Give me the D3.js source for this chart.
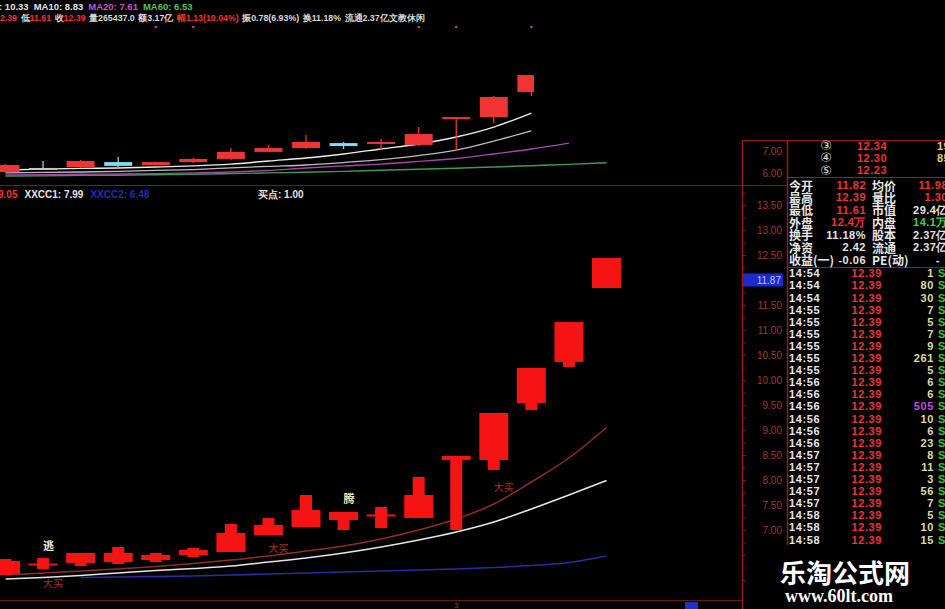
<!DOCTYPE html>
<html><head><meta charset="utf-8">
<script src="https://cdn.jsdelivr.net/npm/d3@7/dist/d3.min.js"></script>
<style>html,body{margin:0;padding:0;background:#000;overflow:hidden}</style>
</head><body><svg id="c" width="945" height="609"></svg>
<script>
// ---------------- DATA ----------------
const barIndex = [0,1,2,3,4,5,6,7,8,9,10,11,12,13,14,15,16];

// upper (main K-line) panel, 15 visible bars
const upperOpen  = [6.07,6.25,6.29,6.51,6.38,6.51,6.65,6.96,7.13,7.35,7.31,7.27,8.49,8.50,9.61];
const upperClose = [6.38,6.25,6.56,6.34,6.51,6.65,6.96,7.13,7.40,7.22,7.40,7.75,8.50,9.39,10.36];
const upperHigh  = [6.42,6.56,6.60,6.73,6.53,6.69,7.13,7.27,7.71,7.40,7.53,8.06,8.50,9.43,10.36];
const upperLow   = [6.03,6.16,6.25,6.29,6.36,6.47,6.60,6.96,7.09,7.09,7.04,7.22,7.00,8.24,9.43];
const upperMA5   = [6.16,6.20,6.23,6.25,6.29,6.34,6.42,6.56,6.69,6.87,7.09,7.31,7.62,8.06,8.68];
const upperMA10  = [6.03,6.05,6.07,6.10,6.14,6.18,6.25,6.32,6.38,6.49,6.62,6.80,7.04,7.44,7.89];
const upperMA20  = [5.94,5.95,5.97,5.98,6.00,6.03,6.07,6.14,6.25,6.34,6.42,6.54,6.67,6.87,7.09,7.35];
const upperMA60  = [5.89,5.90,5.92,5.93,5.95,5.97,6.00,6.03,6.06,6.10,6.15,6.19,6.24,6.29,6.35,6.41,6.48];
const upperTicks = [6.00,7.00];
const markerIndex = [4,5,11,12,14];

// lower (indicator) panel, 17 bars
const lowerOpen  = [6.12,6.31,6.34,6.36,6.40,6.50,6.56,6.90,7.06,7.20,7.29,7.24,8.40,8.40,9.54,10.36,11.84];
const lowerClose = [6.38,6.33,6.54,6.54,6.50,6.60,6.94,7.10,7.40,7.36,7.31,7.70,8.48,9.34,10.24,11.16,12.44];
const lowerHigh  = [6.42,6.44,6.54,6.66,6.54,6.64,7.12,7.24,7.70,7.36,7.46,8.06,8.48,9.34,10.24,11.16,12.44];
const lowerLow   = [6.10,6.22,6.28,6.32,6.36,6.46,6.56,6.90,7.06,7.00,7.04,7.24,7.00,8.20,9.40,10.26,11.84];
const lowerRed   = [6.10,6.14,6.18,6.22,6.27,6.33,6.40,6.48,6.58,6.68,6.82,7.00,7.22,7.52,7.96,8.44,9.05];
const lowerWhite = [6.02,6.05,6.09,6.14,6.19,6.23,6.28,6.36,6.44,6.54,6.66,6.80,6.96,7.16,7.42,7.70,7.99];
const lowerBlue  = [null,null,6.05,6.06,6.07,6.08,6.10,6.12,6.14,6.16,6.18,6.20,6.22,6.25,6.29,6.35,6.48];
const lowerTicks = [7.00,7.50,8.00,8.50,9.00,9.50,10.00,10.50,11.00,11.50,12.00,12.50,13.00,13.50];
const signalText  = ["逃","大买","大买","腾","大买"];
const signalIndex = [1,1,7,9,13];
const signalValue = [6.70,5.96,6.66,7.64,7.88];
const cursorText = "11.87";
const cursorLevel = 12.00;
const dateLabel = "3", dateIndex = 12;

// headers
const head1Labels = ["MA5","MA10","MA20","MA60"];
const head1Values = ["10.33","8.83","7.61","6.53"];
const head2Labels = ["高","低","收","量","额","幅","振","换","流通",""];
const head2Values = ["12.39","11.61","12.39","265437.0","3.17亿","1.13(10.04%)","0.78(6.93%)","11.18%","2.37亿","文教休闲"];
const lowHeadLabels = ["","XXCC1","XXCC2","买点"];
const lowHeadValues = ["9.05","7.99","6.48","1.00"];

// right quote panel
const bookLevel  = ["③","④","⑤"];
const bookPrice  = ["12.34","12.30","12.23"];
const bookVolume = ["19","85",""];
const statLabel1 = ["今开","最高","最低","外盘","换手","净资","收益(一)"];
const statValue1 = ["11.82","12.39","11.61","12.4万","11.18%","2.42","-0.06"];
const statLabel2 = ["均价","量比","市值","内盘","股本","流通","PE(动)"];
const statValue2 = ["11.98","1.30","29.4亿","14.1万","2.37亿","2.37亿","-"];
const tickTimes  = ["14:54","14:54","14:54","14:55","14:55","14:55","14:55","14:55","14:55","14:56","14:56","14:56","14:56","14:56","14:56","14:57","14:57","14:57","14:57","14:57","14:58","14:58","14:58"];
const tickPrices = [12.39,12.39,12.39,12.39,12.39,12.39,12.39,12.39,12.39,12.39,12.39,12.39,12.39,12.39,12.39,12.39,12.39,12.39,12.39,12.39,12.39,12.39,12.39];
const tickVolumes= [1,80,30,7,5,7,9,261,5,6,6,505,10,6,23,8,11,3,56,7,5,10,15];
const watermark1 = "乐淘公式网", watermark2 = "www.60lt.com";

// ---------------- STYLE ----------------
const NUM = '"Liberation Sans", Arial, sans-serif';
const CJK = '"Noto Sans CJK SC", "Noto Sans", sans-serif';
const GRID = '#9c1a1a';
const AXT = '#a03838';
const RED = '#f03434';
const WHITE = '#e4e4e4';

const svg = d3.select('#c');
svg.append('rect').attr('width',945).attr('height',609).attr('fill','#000');
const defs = svg.append('defs');
function clip(id,x,y,w,h){defs.append('clipPath').attr('id',id).append('rect').attr('x',x).attr('y',y).attr('width',w).attr('height',h);}
clip('cUpA',0,28,534,157);
clip('cUp',0,28,742,157);
clip('cLo',0,186,742,414);

const x = d3.scaleLinear().domain([0,16]).range([5.5,606.5]);
const yUp = d3.scaleLinear().domain([6,7]).range([173.6,151]);
const yLo = d3.scaleLinear().domain([7,13.5]).range([530,205]);

function T(g,xx,yy,s,o={}){
  const t = g.append('text').attr('x',xx).attr('y',yy).text(s)
    .attr('fill',o.fill||WHITE).attr('font-family',o.font||NUM)
    .attr('font-size',o.size||11).attr('font-weight',o.weight||'bold')
    .attr('text-anchor',o.anchor||'start').attr('dominant-baseline',o.base||'central');
  if(o.ls) t.attr('letter-spacing',o.ls);
  return t;
}

// ---------------- HEADERS ----------------
const h1 = svg.append('text').attr('x',-21).attr('y',6).attr('dominant-baseline','central')
  .attr('font-family',NUM).attr('font-size',9.5).attr('font-weight','bold');
const h1col = [WHITE,WHITE,'#c850d0','#56c060'];
head1Labels.forEach((l,i)=>{h1.append('tspan').attr('dx',i?5:0).attr('fill',h1col[i]).text(l+': '+head1Values[i]);});

const h2 = svg.append('text').attr('x',-14).attr('y',17.5).attr('dominant-baseline','central')
  .attr('font-family',NUM).attr('font-size',8.8).attr('font-weight','bold');
const redVal = new Set(['高','低','收','幅']);
head2Labels.forEach((l,i)=>{
  h2.append('tspan').attr('dx',i?3.5:0).attr('fill',l==='幅'?RED:'#d8d8d8').text(l);
  h2.append('tspan').attr('fill',redVal.has(l)?RED:'#d8d8d8').text(head2Values[i]);
});
svg.selectAll('circle.mk').data(markerIndex).join('circle').attr('cx',d=>x(d)).attr('cy',27).attr('r',1.3).attr('fill','#c0409a');

const h3 = svg.append('text').attr('x',-2).attr('y',194).attr('dominant-baseline','central')
  .attr('font-family',NUM).attr('font-size',10).attr('font-weight','bold');
const h3col = [RED,WHITE,'#2a2ab0',WHITE];
lowHeadLabels.forEach((l,i)=>{
  if(i===3) return;
  h3.append('tspan').attr('dx',i?7:0).attr('fill',h3col[i]).text(l?l+': '+lowHeadValues[i]:lowHeadValues[i]);
});
T(svg,258,194,lowHeadLabels[3]+': '+lowHeadValues[3],{size:10});

// ---------------- UPPER PANEL ----------------
const gUp = svg.append('g').attr('clip-path','url(#cUp)');
const gUpA = svg.append('g').attr('clip-path','url(#cUpA)');
const up = upperOpen.map((o,i)=>({i:barIndex[i],o,c:upperClose[i],h:upperHigh[i],l:upperLow[i]}));
const upColor = d => d.c>d.o ? RED : (d.c<d.o ? '#7fdcea' : '#c4c4c4');
const lineUp = d3.line().defined(d=>d!=null).x((d,i)=>x(barIndex[i])).y(d=>yUp(d)).curve(d3.curveMonotoneX);
gUp.append('path').attr('d',lineUp(upperMA60)).attr('fill','none').attr('stroke','#3f9a58').attr('stroke-width',1.4);
gUp.append('path').attr('d',lineUp(upperMA20)).attr('fill','none').attr('stroke','#a24aa8').attr('stroke-width',1.4);
gUpA.append('path').attr('d',lineUp(upperMA10)).attr('fill','none').attr('stroke','#bdbdbd').attr('stroke-width',1.3);
gUpA.append('path').attr('d',lineUp(upperMA5)).attr('fill','none').attr('stroke','#ececec').attr('stroke-width',1.4);
gUpA.selectAll('line.w').data(up).join('line').attr('x1',d=>x(d.i)).attr('x2',d=>x(d.i))
  .attr('y1',d=>yUp(d.h)).attr('y2',d=>yUp(d.l)).attr('stroke',upColor).attr('stroke-width',1.3);
gUpA.selectAll('rect.b').data(up).join('rect').attr('x',d=>x(d.i)-14).attr('width',28)
  .attr('y',d=>yUp(Math.max(d.o,d.c))).attr('height',d=>Math.max(2,Math.abs(yUp(d.o)-yUp(d.c)))).attr('fill',upColor);

// ---------------- LOWER PANEL ----------------
const gLo = svg.append('g').attr('clip-path','url(#cLo)');
const lineLo = d3.line().defined(d=>d!=null).x((d,i)=>x(barIndex[i])).y(d=>yLo(d)).curve(d3.curveMonotoneX);
gLo.append('path').attr('d',lineLo(lowerBlue)).attr('fill','none').attr('stroke','#2a2aa6').attr('stroke-width',1.6);
gLo.append('path').attr('d',lineLo(lowerRed)).attr('fill','none').attr('stroke','#8e2c2c').attr('stroke-width',1.5);
gLo.append('path').attr('d',lineLo(lowerWhite)).attr('fill','none').attr('stroke','#e6e6e6').attr('stroke-width',1.5);
const lo = lowerOpen.map((o,i)=>({i:barIndex[i],o,c:lowerClose[i],h:lowerHigh[i],l:lowerLow[i]}));
const LRED = '#f51414';
gLo.selectAll('rect.w').data(lo).join('rect').attr('x',d=>x(d.i)-6).attr('width',12)
  .attr('y',d=>yLo(d.h)).attr('height',d=>Math.max(1,yLo(d.l)-yLo(d.h))).attr('fill',LRED);
gLo.selectAll('rect.b').data(lo).join('rect').attr('x',d=>x(d.i)-14.5).attr('width',29)
  .attr('y',d=>yLo(Math.max(d.o,d.c))).attr('height',d=>Math.max(2,Math.abs(yLo(d.o)-yLo(d.c)))).attr('fill',LRED);
signalText.forEach((s,k)=>{
  const col = s==='大买' ? '#a83030' : (s==='腾' ? '#f0e8b0' : '#ece8d0');
  T(gLo,x(signalIndex[k]),yLo(signalValue[k]),s,{font:CJK,size:s==='大买'?10:11,fill:col,weight:s==='大买'?'normal':'bold'});
});

// ---------------- FRAME LINES ----------------
function L(x1,y1,x2,y2,c=GRID,w=1){svg.append('line').attr('x1',x1).attr('y1',y1).attr('x2',x2).attr('y2',y2).attr('stroke',c).attr('stroke-width',w);}
L(0,185.5,787,185.5,'#7a1a1a');
L(0,600.5,742,600.5,'#6a1616');
L(742.5,140,742.5,609,GRID,1.5);
L(787.5,140,787.5,545,GRID,1.5);
L(742,140.5,945,140.5,GRID);
L(787,177.5,945,177.5,GRID);
L(787,267.5,945,267.5,GRID);

// axes
const axU = svg.append('g').attr('transform','translate(782,0)')
  .call(d3.axisLeft(yUp).tickValues(upperTicks).tickSize(0).tickPadding(0).tickFormat(d3.format('.2f')));
const axL = svg.append('g').attr('transform','translate(782,0)')
  .call(d3.axisLeft(yLo).tickValues(lowerTicks).tickSize(0).tickPadding(0).tickFormat(d3.format('.2f')));
[axU,axL].forEach(a=>{a.select('.domain').remove();a.selectAll('text').attr('fill',AXT).attr('font-family',NUM).attr('font-size',10);});
svg.append('g').attr('transform','translate(742.5,0)')
  .call(d3.axisRight(yLo).tickValues(d3.range(6,13.8,0.25)).tickSize(3).tickFormat(''))
  .call(g=>{g.select('.domain').remove();g.selectAll('line').attr('stroke',GRID);});
// cursor readout
const cy = yLo(cursorLevel);
svg.append('rect').attr('x',743).attr('y',cy-6.5).attr('width',40).attr('height',13).attr('fill','#1e2ad0');
T(svg,781,cy,cursorText,{size:10,anchor:'end',fill:'#b8c8ff',weight:'normal'});
T(svg,x(dateIndex),605,dateLabel,{size:8,fill:AXT,anchor:'middle',weight:'normal'});
svg.append('rect').attr('x',x(18.25)-6).attr('y',602).attr('width',13).attr('height',7).attr('fill','#2030c0');

// ---------------- RIGHT QUOTE PANEL ----------------
const gR = svg.append('g');
bookLevel.forEach((s,k)=>{
  const yy = 145.5+12.3*k;
  T(gR,826,yy,s,{font:'"DejaVu Sans", sans-serif',size:13,anchor:'middle',fill:'#d8d8d8',weight:'normal'});
  T(gR,887,yy,bookPrice[k],{anchor:'end',fill:RED,ls:0.5});
  T(gR,937,yy,bookVolume[k],{fill:'#e0d060',ls:0.5});
});
const redStat1 = new Set(['今开','最高','最低','外盘']);
const redStat2 = new Set(['均价','量比']);
statLabel1.forEach((s,k)=>{
  const yy = 185+12.45*k;
  T(gR,789,yy,s,{font:CJK,size:12,fill:'#e8e8e8'});
  T(gR,866,yy,statValue1[k],{anchor:'end',fill:redStat1.has(s)?RED:WHITE,ls:0.5});
  T(gR,872,yy,statLabel2[k],{font:CJK,size:12,fill:'#e8e8e8'});
  const l2 = statLabel2[k];
  T(gR,l2==='PE(动)'?940:948,yy,statValue2[k],{anchor:'end',fill:redStat2.has(l2)?RED:(l2==='内盘'?'#3fd04a':WHITE),ls:0.5});
});
tickTimes.forEach((t,k)=>{
  const yy = 273.3+12.1*k;
  T(gR,789,yy,t,{fill:'#e8e8e8',ls:0.6});
  T(gR,882,yy,tickPrices[k].toFixed(2),{anchor:'end',fill:RED,ls:0.6});
  T(gR,934,yy,String(tickVolumes[k]),{anchor:'end',fill:tickVolumes[k]>=500?'#c050d8':'#dcdca0',ls:0.6});
  T(gR,938,yy,'S',{fill:'#3cc040'});
});
T(svg,780,571,watermark1,{font:CJK,size:26,fill:'#ffffff'});
T(svg,785,596,watermark2,{font:'"Liberation Serif", "Times New Roman", serif',size:18,fill:'#ffffff'});
</script></body></html>
